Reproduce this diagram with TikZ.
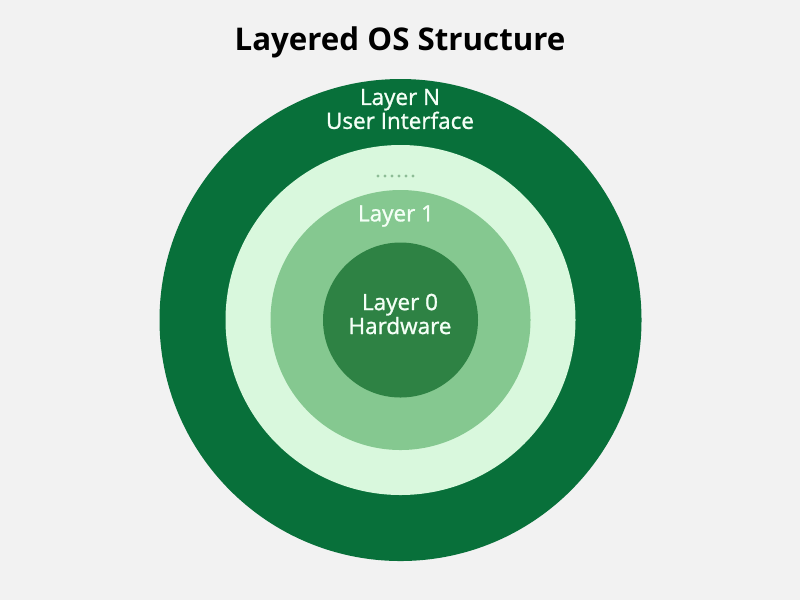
\documentclass[tikz,border=0pt]{standalone}
\usepackage{fontspec}
\setmainfont{Open Sans}
\newfontfamily\semib[FakeBold=1.2]{Open Sans}
\definecolor{bg}{HTML}{F2F2F2}
\definecolor{ringN}{HTML}{08703A}
\definecolor{ringM}{HTML}{D9F8DD}
\definecolor{ringA}{HTML}{85C890}
\definecolor{ringZ}{HTML}{2E8244}
\definecolor{dotc}{HTML}{8DBC96}
\definecolor{lbl}{HTML}{F4FFF6}
\begin{document}
\begin{tikzpicture}[x=0.02cm,y=-0.02cm,
  ringstyle/.style={circle,inner sep=0pt,draw=none},
  lab/.style={text=lbl,font=\semib\fontsize{12.8}{13.6}\selectfont,align=center,inner sep=0pt}]
\fill[bg] (0,0) rectangle (800,600);
\useasboundingbox (0,0) rectangle (800,600);
\node[font=\bfseries\fontsize{17.8}{22}\selectfont] (title) at (400,42) {Layered OS Structure};
\node[ringstyle,fill=ringN,minimum size=482*0.02cm] (rN) at (400.5,320) {};
\node[ringstyle,fill=ringM,minimum size=350*0.02cm] (rM) at (400.5,320) {};
\node[ringstyle,fill=ringA,minimum size=260*0.02cm] (r1) at (400.5,320) {};
\node[ringstyle,fill=ringZ,minimum size=155*0.02cm] (r0) at (400.5,320) {};
\node[lab] (tN) at (400,109) {Layer N\\User Interface};
\foreach \i in {0,...,5}{\fill[dotc] (378+\i*7,176) circle (1.7);}
\node[lab] (t1) at (396,216) {Layer 1};
\node[lab] (t0) at (400,314) {Layer 0\\Hardware};
\end{tikzpicture}
\end{document}
